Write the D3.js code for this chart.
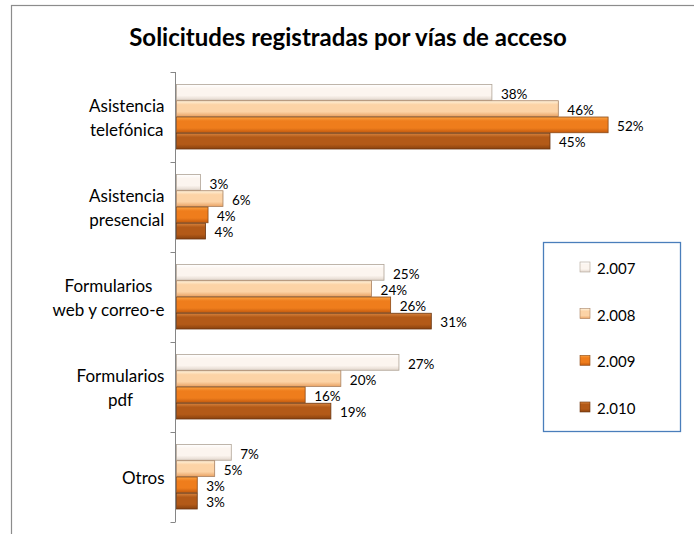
<!DOCTYPE html>
<html>
<head>
<meta charset="utf-8">
<script src="https://cdn.jsdelivr.net/npm/d3@7"></script>
<style>
  body { margin: 0; background: #fff; }
  svg { display: block; font-family: Lato, "Open Sans", sans-serif; }
</style>
</head>
<body>
<svg id="chart" width="694" height="534"></svg>
<script>
// chart data
const categories = [
  ['Asistencia', 'telefónica'],
  ['Asistencia', 'presencial'],
  ['Formularios', 'web y correo-e'],
  ['Formularios', 'pdf'],
  ['Otros']
]
const years = ['2.007', '2.008', '2.009', '2.010']
const values2007 = [38, 2.9, 25, 26.8, 6.6]
const values2008 = [46, 5.6, 23.5, 19.8, 4.6]
const values2009 = [52, 3.8, 25.8, 15.5, 2.5]
const values2010 = [45, 3.5, 30.7, 18.6, 2.5]
const series = [values2007, values2008, values2009, values2010]

// gradient stops per year: top, middle, bottom, outline
const palette = [
  { top: '#ffffff', mid: '#fcf5ef', bot: '#e2d6cc', line: '#b0a496' },
  { top: '#fff3dc', mid: '#fcd3a6', bot: '#e9a263', line: '#a88060' },
  { top: '#faa445', mid: '#ef7d1c', bot: '#c2590d', line: '#8a4a18' },
  { top: '#d8843e', mid: '#b35a18', bot: '#8a420e', line: '#6a3612' }
]

const svg = d3.select('#chart')

// outer frame
svg.append('rect')
  .attr('x', 11.5).attr('y', 5.5)
  .attr('width', 700).attr('height', 600)
  .attr('fill', '#fff')
  .attr('stroke', '#8c8c8c')
  .attr('stroke-width', 1.2)

const defs = svg.append('defs')
palette.forEach((p, i) => {
  const g = defs.append('linearGradient')
    .attr('id', 'grad' + i)
    .attr('x1', 0).attr('y1', 0).attr('x2', 0).attr('y2', 1)
  g.append('stop').attr('offset', '0%').attr('stop-color', p.top)
  g.append('stop').attr('offset', '25%').attr('stop-color', p.mid)
  g.append('stop').attr('offset', '70%').attr('stop-color', p.mid)
  g.append('stop').attr('offset', '100%').attr('stop-color', p.bot)
})

const x = d3.scaleLinear().domain([0, 60]).range([176.5, 674.5])
const y0 = d3.scaleBand().domain(d3.range(categories.length)).range([72, 522])
const y1 = d3.scaleBand().domain(d3.range(years.length)).range([12, 77])

// title
svg.append('text')
  .attr('x', 348).attr('y', 46)
  .attr('text-anchor', 'middle')
  .attr('font-size', 24)
  .attr('font-weight', 'bold')
  .attr('fill', '#000')
  .text('Solicitudes registradas por vías de acceso')

// category axis
const axisX = 175.5
svg.append('line')
  .attr('x1', axisX).attr('x2', axisX)
  .attr('y1', 72).attr('y2', 522)
  .attr('stroke', '#868686')
const tickPos = d3.range(categories.length).map(d => y0(d)).concat([522])
svg.selectAll('line.tick')
  .data(tickPos)
  .enter()
  .append('line')
  .attr('class', 'tick')
  .attr('x1', axisX - 5).attr('x2', axisX)
  .attr('y1', d => Math.round(d) + 0.5).attr('y2', d => Math.round(d) + 0.5)
  .attr('stroke', '#868686')

// category labels, lines centred inside a right-aligned block
categories.forEach((lines, ci) => {
  const g = svg.append('g')
  const cy = y0(ci) + y0.bandwidth() / 2 + 0
  const lh = 24
  const texts = lines.map((t, li) => g.append('text')
    .attr('y', cy + (li - (lines.length - 1) / 2) * lh)
    .attr('dominant-baseline', 'central')
    .attr('text-anchor', 'middle')
    .attr('font-size', 17)
    .attr('fill', '#000')
    .text(t))
  const maxW = d3.max(texts, t => t.node().getComputedTextLength())
  texts.forEach(t => t.attr('x', axisX - 11 - maxW / 2))
})

// bars
const groups = svg.selectAll('g.cat')
  .data(categories)
  .enter()
  .append('g')
  .attr('class', 'cat')
  .attr('transform', (d, i) => `translate(0,${y0(i)})`)

groups.each(function (d, ci) {
  const g = d3.select(this)
  series.forEach((vals, si) => {
    const v = vals[ci]
    g.append('rect')
      .attr('x', x(0))
      .attr('y', y1(si) + 0.5)
      .attr('width', x(v) - x(0))
      .attr('height', y1.bandwidth() - 0.5)
      .attr('fill', `url(#grad${si})`)
      .attr('stroke', palette[si].line)
      .attr('stroke-width', 0.8)
    g.append('text')
      .attr('x', x(v) + 9)
      .attr('y', y1(si) + y1.bandwidth() / 2 + 1.5)
      .attr('dominant-baseline', 'central')
      .attr('font-size', 13.5)
      .attr('fill', '#000')
      .text(Math.round(v) + '%')
  })
})

// legend
svg.append('rect')
  .attr('x', 543.5).attr('y', 242.5)
  .attr('width', 137).attr('height', 189)
  .attr('fill', '#fff')
  .attr('stroke', '#4a7ebb')
  .attr('stroke-width', 1.3)
const legendY = d3.scalePoint().domain(years).range([267, 407])
const items = svg.selectAll('g.legend')
  .data(years)
  .enter()
  .append('g')
  .attr('class', 'legend')
  .attr('transform', d => `translate(0,${legendY(d)})`)
items.append('rect')
  .attr('x', 580).attr('y', -5)
  .attr('width', 10).attr('height', 10)
  .attr('fill', (d, i) => `url(#grad${i})`)
  .attr('stroke', (d, i) => palette[i].line)
  .attr('stroke-width', 0.6)
items.append('text')
  .attr('x', 597).attr('y', 1)
  .attr('dominant-baseline', 'central')
  .attr('font-size', 15)
  .attr('fill', '#000')
  .text(d => d)
</script>
</body>
</html>
